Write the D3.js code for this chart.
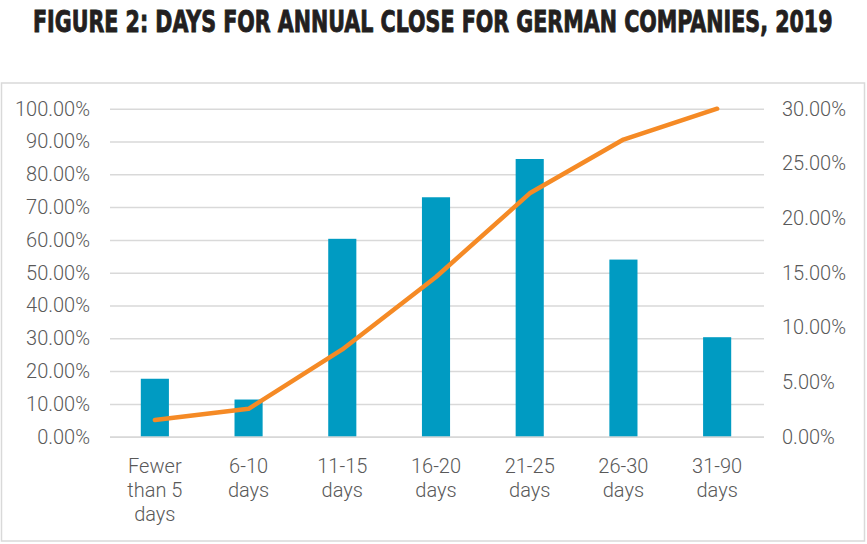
<!DOCTYPE html>
<html>
<head>
<meta charset="utf-8">
<script src="https://cdn.jsdelivr.net/npm/d3@7"></script>
<style>
  body { margin: 0; background: #fff; }
  .tick text { font-family: Roboto, "Liberation Sans", sans-serif; font-weight: 300; }
</style>
</head>
<body>
<script>
// chart data
var categories = ["Fewer than 5 days", "6-10 days", "11-15 days", "16-20 days", "21-25 days", "26-30 days", "31-90 days"];
var categoryLines = [["Fewer", "than 5", "days"], ["6-10", "days"], ["11-15", "days"], ["16-20", "days"], ["21-25", "days"], ["26-30", "days"], ["31-90", "days"]];
var shareValues = [5.3, 3.4, 18.1, 21.9, 25.4, 16.2, 9.1];        // bars, right axis
var cumulativeValues = [5.1, 8.5, 26.6, 48.7, 74.2, 90.6, 100];   // line, left axis
var leftTicks = [0, 10, 20, 30, 40, 50, 60, 70, 80, 90, 100];
var rightTicks = [0, 5, 10, 15, 20, 25, 30];

var svgWidth = 867;
var svgHeight = 544;

var svg = d3.select("body")
    .append("svg")
    .attr("width", svgWidth)
    .attr("height", svgHeight);

// Title - squeezed horizontally to fit the reference width
var title = svg.append("text")
    .attr("x", 0)
    .attr("y", 0)
    .attr("font-family", "'Liberation Sans Narrow', 'DejaVu Sans Condensed', sans-serif")
    .attr("font-weight", "bold")
    .attr("font-size", 31)
    .attr("fill", "#231f20")
    .attr("stroke", "#231f20")
    .attr("stroke-width", 0.9)
    .text("FIGURE 2: DAYS FOR ANNUAL CLOSE FOR GERMAN COMPANIES, 2019");
var tw = title.node().getComputedTextLength();
title.attr("transform", `translate(33, 32) scale(${800 / tw}, 1)`);

// Chart frame
svg.append("rect")
    .attr("x", 1.5)
    .attr("y", 83)
    .attr("width", 863)
    .attr("height", 458)
    .attr("fill", "none")
    .attr("stroke", "#d9d9d9")
    .attr("stroke-width", 1.5);

var plot = { left: 108, right: 764, top: 108.7, bottom: 436.7 };

var xScale = d3.scaleBand()
    .domain(categories)
    .range([plot.left, plot.right])
    .paddingInner(0.7)
    .paddingOuter(0.35);

var yLeft = d3.scaleLinear().domain([0, 100]).range([plot.bottom, plot.top]);
var yRight = d3.scaleLinear().domain([0, 30]).range([plot.bottom, plot.top]);

// gridlines + left axis
var leftAxis = d3.axisLeft(yLeft)
    .tickValues(leftTicks)
    .tickSize(-(plot.right - plot.left - 2))
    .tickPadding(20)
    .tickFormat(d => d.toFixed(2) + "%");

var gLeft = svg.append("g")
    .attr("transform", `translate(${plot.left + 2}, 0)`)
    .call(leftAxis);
gLeft.select(".domain").remove();
gLeft.selectAll(".tick line").attr("stroke", "#d9d9d9").attr("stroke-width", 1.5);
gLeft.selectAll(".tick text")
    .attr("fill", "#595959")
    .attr("font-size", 20)
    .attr("x", -20);

// right axis (labels only)
var rightAxis = d3.axisRight(yRight)
    .tickValues(rightTicks)
    .tickSize(0)
    .tickPadding(0)
    .tickFormat(d => d.toFixed(2) + "%");

var gRight = svg.append("g")
    .attr("transform", `translate(782, 0)`)
    .call(rightAxis);
gRight.select(".domain").remove();
gRight.selectAll(".tick text")
    .attr("fill", "#595959")
    .attr("font-size", 20);

// bars
svg.append("g")
    .selectAll("rect")
    .data(shareValues)
    .enter()
    .append("rect")
    .attr("x", (d, i) => xScale(categories[i]))
    .attr("y", d => yRight(d))
    .attr("width", xScale.bandwidth())
    .attr("height", d => plot.bottom - yRight(d))
    .attr("fill", "#009bc2");

// baseline over the bars
svg.append("line")
    .attr("x1", plot.left + 2)
    .attr("x2", plot.right)
    .attr("y1", plot.bottom)
    .attr("y2", plot.bottom)
    .attr("stroke", "#d9d9d9")
    .attr("stroke-opacity", 0.6)
    .attr("stroke-width", 1.5);

// cumulative line
var line = d3.line()
    .x((d, i) => xScale(categories[i]) + xScale.bandwidth() / 2)
    .y(d => yLeft(d));

svg.append("path")
    .datum(cumulativeValues)
    .attr("d", line)
    .attr("fill", "none")
    .attr("stroke", "#f58a25")
    .attr("stroke-width", 4.5)
    .attr("stroke-linejoin", "round")
    .attr("stroke-linecap", "round");

// category labels
var labels = svg.append("g")
    .attr("font-family", "Roboto, 'Liberation Sans', sans-serif")
    .attr("font-weight", 300)
    .attr("font-size", 20)
    .attr("fill", "#595959")
    .attr("text-anchor", "middle");

categoryLines.forEach(function (lines, i) {
    var cx = xScale(categories[i]) + xScale.bandwidth() / 2;
    lines.forEach(function (t, j) {
        labels.append("text")
            .attr("x", cx)
            .attr("y", 473 + j * 24)
            .text(t);
    });
});
</script>
</body>
</html>
